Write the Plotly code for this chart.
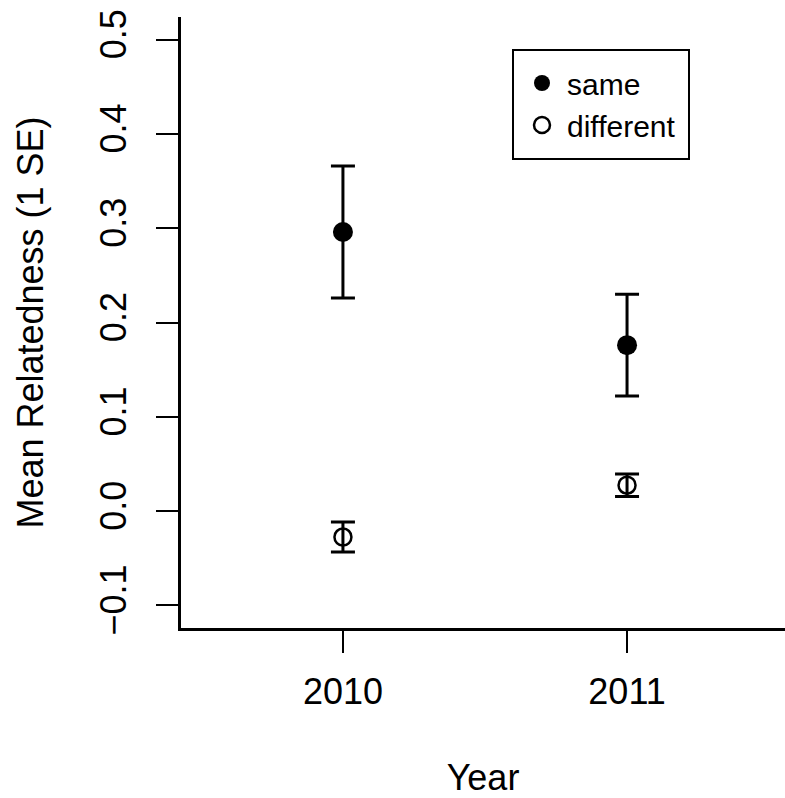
import plotly.graph_objects as go

years = [2010, 2011]
same_mean = [0.296, 0.176]
same_se = [0.070, 0.054]
diff_mean = [-0.0275, 0.0274]
diff_se = [0.016, 0.012]
ytick_vals = [-0.1, 0.0, 0.1, 0.2, 0.3, 0.4, 0.5]
ytick_text = ["\u22120.1", "0.0", "0.1", "0.2", "0.3", "0.4", "0.5"]
xtick_vals = [2010, 2011]
xtick_text = ["2010", "2011"]

FONT = "Liberation Sans, Arial, sans-serif"

fig = go.Figure()
fig.add_trace(go.Scatter(
    x=years, y=same_mean, mode="markers", name="same",
    marker=dict(symbol="circle", size=20, color="black"),
    error_y=dict(type="data", array=same_se, visible=True, color="black", thickness=3, width=12),
))
fig.add_trace(go.Scatter(
    x=years, y=diff_mean, mode="markers", name="different",
    marker=dict(symbol="circle-open", size=17, color="black", line=dict(width=2.5, color="black")),
    error_y=dict(type="data", array=diff_se, visible=True, color="black", thickness=3, width=12),
))

W, H = 785, 798
L, R, T, B = 181, 0, 17, 170

# legend frame
lx0, lx1, ly0, ly1 = 513, 689, 50, 159
def px_x(p):
    return (p - L) / (W - L - R)
def px_y(p):
    return (H - B - p) / (H - T - B)

fig.add_shape(type="rect", xref="paper", yref="paper",
              x0=px_x(lx0), x1=px_x(lx1), y0=px_y(ly1), y1=px_y(ly0),
              line=dict(color="black", width=2), fillcolor="rgba(0,0,0,0)")

fig.update_layout(
    width=W, height=H,
    margin=dict(l=L, r=R, t=T, b=B, pad=0),
    paper_bgcolor="white", plot_bgcolor="white",
    font=dict(family=FONT, size=36, color="black"),
    showlegend=True,
    legend=dict(x=px_x(lx0 + 4), y=px_y(ly0 + 7), xanchor="left", yanchor="top",
                bgcolor="rgba(0,0,0,0)", borderwidth=0,
                font=dict(family=FONT, size=30, color="black"),
                itemwidth=40, tracegroupgap=0),
    xaxis=dict(range=[2009.43, 2011.556], tickvals=xtick_vals, ticktext=xtick_text,
               showgrid=False, zeroline=False, showline=True, linecolor="black", linewidth=3,
               ticks="outside", ticklen=22, tickwidth=2, tickcolor="black",
               ticklabelstandoff=8,
               title=dict(text="Year", font=dict(family=FONT, size=36), standoff=56)),
    yaxis=dict(range=[-0.124, 0.524], tickvals=ytick_vals, ticktext=ytick_text,
               showgrid=False, zeroline=False, showline=True, linecolor="black", linewidth=3,
               ticks="outside", ticklen=22, tickwidth=2, tickcolor="black",
               tickangle=-90, ticklabelstandoff=16,
               title=dict(text="Mean Relatedness (1 SE)", font=dict(family=FONT, size=36), standoff=38)),
)

fig.write_html("out.html")
